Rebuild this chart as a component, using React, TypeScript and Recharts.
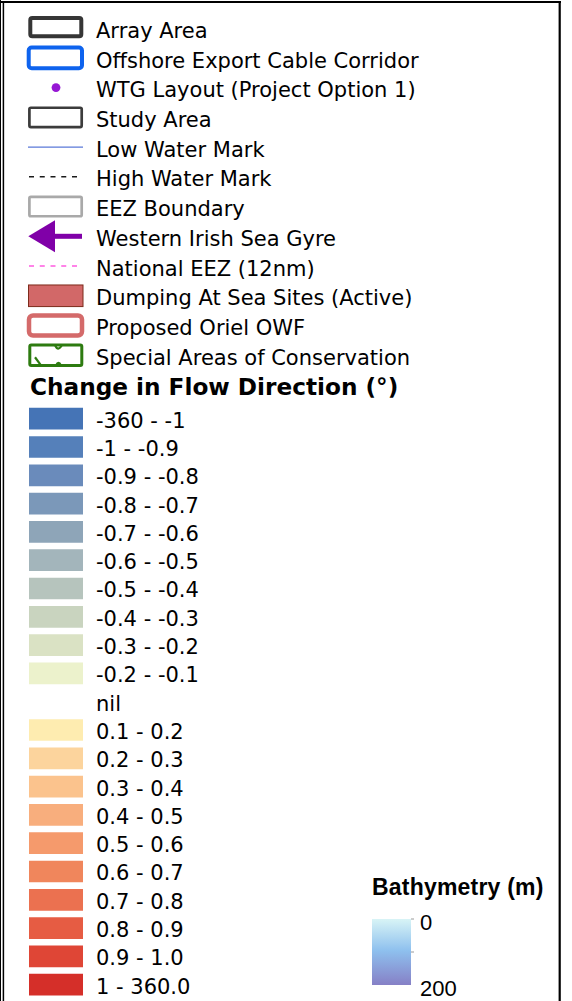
import React from "react";
import { BarChart, Bar, XAxis, YAxis, Cell } from "recharts";

const FONT = "'DejaVu Sans', Verdana, sans-serif";
const ARIAL = "'Liberation Sans', Arial, sans-serif";

// map layers (top block of the legend)
const layerLabels = [
  "Array Area",
  "Offshore Export Cable Corridor",
  "WTG Layout (Project Option 1)",
  "Study Area",
  "Low Water Mark",
  "High Water Mark",
  "EEZ Boundary",
  "Western Irish Sea Gyre",
  "National EEZ (12nm)",
  "Dumping At Sea Sites (Active)",
  "Proposed Oriel OWF",
  "Special Areas of Conservation",
];
const layerKinds = [
  "box-dark", "box-blue", "dot", "box", "line", "dash",
  "box-grey", "arrow", "dash-pink", "fill", "box-red", "sac",
];

// change in flow direction classes
const flowClasses = [
  "-360 - -1", "-1 - -0.9", "-0.9 - -0.8", "-0.8 - -0.7", "-0.7 - -0.6",
  "-0.6 - -0.5", "-0.5 - -0.4", "-0.4 - -0.3", "-0.3 - -0.2", "-0.2 - -0.1",
  "nil",
  "0.1 - 0.2", "0.2 - 0.3", "0.3 - 0.4", "0.4 - 0.5", "0.5 - 0.6",
  "0.6 - 0.7", "0.7 - 0.8", "0.8 - 0.9", "0.9 - 1.0", "1 - 360.0",
];
const flowColours = [
  "#4574b6", "#5580ba", "#6a8bbb", "#7b98b9", "#8ea5b8",
  "#a3b5bb", "#b6c4bd", "#c9d4bf", "#dae2c4", "#ecf2cc",
  null,
  "#feecb0", "#fcd49d", "#fbc38d", "#f8ae7d", "#f59a6c",
  "#f0865c", "#eb7150", "#e65c43", "#df4636", "#d52f29",
];

// bathymetry colour ramp
const depthTicks = [0, 100, 200];
const depthRange = [{ name: "Bathymetry (m)", depth: 200 }];

const layerData = layerLabels.map((label, i) => ({ label, kind: layerKinds[i], on: 1 }));
const flowData = flowClasses.map((label, i) => ({
  label,
  colour: flowColours[i],
  on: flowColours[i] ? 1 : 0,
}));

function LayerSymbol(props: any) {
  const { x, y, width, height, payload } = props;
  const cy = y + height / 2;
  const r = x + width;
  switch (payload.kind) {
    case "box-dark":
      return <rect x={x + 3.3} y={cy - 10.2} width={51} height={18.3} rx={2} fill="#fff" stroke="#363636" strokeWidth={4} />;
    case "box-blue":
      return <rect x={x + 1.7} y={cy - 10.3} width={53.3} height={20.7} rx={3} fill="#fff" stroke="#0e63ee" strokeWidth={4} />;
    case "dot":
      return <circle cx={x + 29} cy={cy} r={4.4} fill="#9617d4" />;
    case "box":
      return <rect x={x + 2.4} y={cy - 9.6} width={52.3} height={19.3} rx={1.5} fill="#fff" stroke="#3c3c3c" strokeWidth={2.7} />;
    case "box-grey":
      return <rect x={x + 2.4} y={cy - 9.6} width={52.3} height={19.3} rx={1.5} fill="#fff" stroke="#a9a9a9" strokeWidth={2.7} />;
    case "line":
      return <line x1={x + 1} x2={r - 1} y1={cy} y2={cy} stroke="#5a78d8" strokeWidth={1.3} />;
    case "dash":
      return <line x1={x + 2} x2={x + 50} y1={cy} y2={cy} stroke="#1a1a1a" strokeWidth={1.6} strokeDasharray="5 5.75" />;
    case "dash-pink":
      return <line x1={x + 2} x2={x + 50} y1={cy} y2={cy} stroke="#ff83e8" strokeWidth={2} strokeDasharray="5 5.75" />;
    case "arrow":
      return (
        <g fill="#8000a8">
          <polygon points={`${x + 1.3},${cy} ${x + 28},${cy - 16} ${x + 28},${cy + 16}`} />
          <rect x={x + 27} y={cy - 2.5} width={28} height={5} />
        </g>
      );
    case "fill":
      return <rect x={x + 1.5} y={cy - 10.8} width={54.5} height={21.6} fill="#d26868" stroke="#7d2b1b" strokeWidth={1} />;
    case "box-red":
      return <rect x={x + 2} y={cy - 10.1} width={53} height={20.2} rx={4} fill="#fff" stroke="#d46a6a" strokeWidth={4.5} />;
    case "sac": {
      const t = cy - 10.2, b = cy + 10.2;
      return (
        <g fill="none" stroke="#2d7b10" strokeWidth={3}>
          <rect x={x + 2.8} y={t} width={52} height={20.4} rx={1.5} fill="#fff" />
          <path d={`M${x + 8} ${cy + 2} L${x + 14} ${b}`} strokeWidth={2.2} />
          <path d={`M${x + 28} ${t} Q${x + 31} ${t + 7} ${x + 35} ${t}`} strokeWidth={2.2} />
          <path d={`M${x + 29} ${b} Q${x + 31.5} ${b - 5} ${x + 34} ${b}`} strokeWidth={2.2} />
        </g>
      );
    }
    default:
      return null;
  }
}

function LabelTick(props: any) {
  const { x, y, payload, offsetX, baseline } = props;
  return (
    <text x={x + offsetX} y={y} dy={baseline} fontFamily={FONT} fontSize={21} fill="#000" textAnchor="start">
      {payload.value}
    </text>
  );
}

function DepthTick(props: any) {
  const { x, y, payload } = props;
  const v = payload.value;
  return (
    <g>
      {v !== 200 && <line x1={x} x2={x + 3} y1={y} y2={y} stroke="#9a9a9a" strokeWidth={1} />}
      {v !== 100 && (
        <text x={x + 9} y={y} dy={10.5} fontFamily={ARIAL} fontSize={22} fill="#000" textAnchor="start">
          {v}
        </text>
      )}
    </g>
  );
}

export default function App() {
  return (
    <div style={{ position: "absolute", left: 0, top: 0, width: 572, height: 1001, overflow: "hidden", background: "#fff" }}>
      <svg width={572} height={1001} style={{ position: "absolute", left: 0, top: 0 }}>
        <line x1={0.5} x2={0.5} y1={0} y2={1001} stroke="#000" strokeWidth={1} />
        <line x1={3.4} x2={3.4} y1={1} y2={1001} stroke="#000" strokeWidth={1.5} />
        <line x1={0} x2={561} y1={2} y2={2} stroke="#000" strokeWidth={2} />
        <line x1={559.7} x2={559.7} y1={1} y2={1001} stroke="#000" strokeWidth={2.2} />
        <text x={30} y={395} fontFamily={FONT} fontWeight="bold" fontSize={23.2} fill="#000">
          Change in Flow Direction (°)
        </text>
        <text x={372} y={895} fontFamily={ARIAL} fontWeight="bold" fontSize={23} letterSpacing={0.2} fill="#000">
          Bathymetry (m)
        </text>
      </svg>

      <div style={{ position: "absolute", left: 0, top: 0 }}>
        <BarChart width={572} height={370} data={layerData} layout="vertical" margin={{ top: 13.1, right: 0, bottom: 0, left: 27 }}>
          <XAxis type="number" domain={[0, 1]} hide />
          <YAxis
            type="category"
            dataKey="label"
            orientation="right"
            width={488}
            axisLine={false}
            tickLine={false}
            tickSize={0}
            tickMargin={0}
            interval={0}
            tick={<LabelTick offsetX={12} baseline={9.8} />}
          />
          <Bar dataKey="on" barSize={24} shape={<LayerSymbol />} isAnimationActive={false} />
        </BarChart>
      </div>

      <div style={{ position: "absolute", left: 0, top: 372 }}>
        <BarChart width={572} height={629} data={flowData} layout="vertical" margin={{ top: 32.85, right: 0, bottom: 1.85, left: 29 }}>
          <XAxis type="number" domain={[0, 1]} hide />
          <YAxis
            type="category"
            dataKey="label"
            orientation="right"
            width={489}
            axisLine={false}
            tickLine={false}
            tickSize={0}
            tickMargin={0}
            interval={0}
            tick={<LabelTick offsetX={13} baseline={8.6} />}
          />
          <Bar dataKey="on" barSize={21.7} isAnimationActive={false}>
            {flowData.map((d, i) => (
              <Cell key={i} fill={d.colour || "none"} />
            ))}
          </Bar>
        </BarChart>
      </div>

      <div style={{ position: "absolute", left: 340, top: 860 }}>
        <BarChart width={230} height={141} data={depthRange} barCategoryGap={0} margin={{ top: 59, right: 0, bottom: 16, left: 32 }}>
          <defs>
            <linearGradient id="bathyGrad" x1="0" y1="0" x2="0" y2="1">
              <stop offset="0%" stopColor="#d8f4f6" />
              <stop offset="48%" stopColor="#8ec0ee" />
              <stop offset="100%" stopColor="#8680c6" />
            </linearGradient>
          </defs>
          <XAxis dataKey="name" hide />
          <YAxis
            type="number"
            domain={[0, 200]}
            reversed
            ticks={depthTicks}
            orientation="right"
            width={159}
            axisLine={false}
            tickLine={false}
            tickSize={0}
            tickMargin={0}
            interval={0}
            tick={<DepthTick />}
          />
          <Bar dataKey="depth" fill="url(#bathyGrad)" isAnimationActive={false} />
        </BarChart>
      </div>
    </div>
  );
}
